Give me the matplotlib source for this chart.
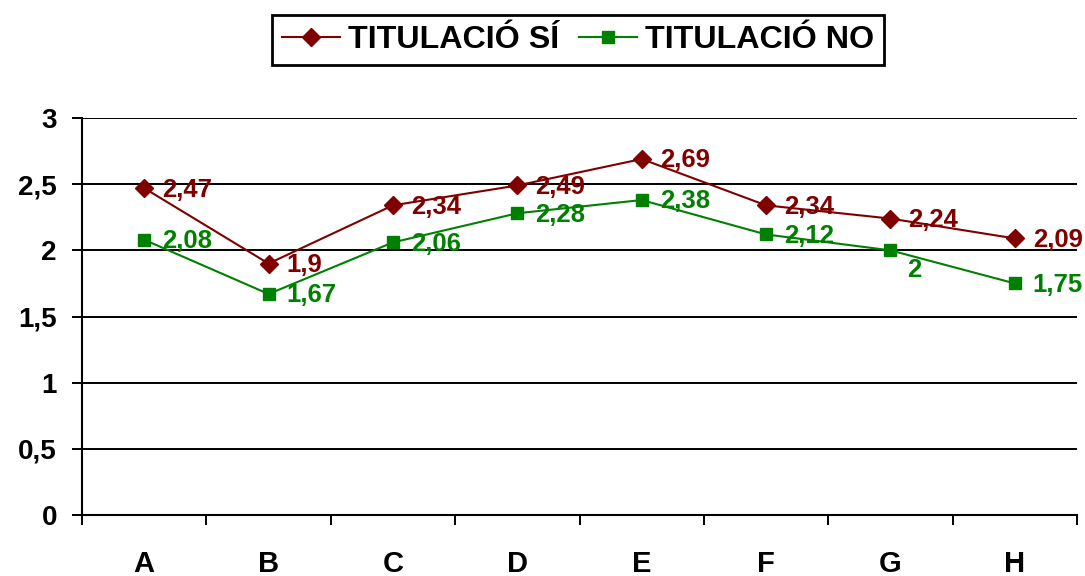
import matplotlib
matplotlib.use("Agg")
import matplotlib.pyplot as plt
from matplotlib.ticker import FixedLocator

categories = ["A", "B", "C", "D", "E", "F", "G", "H"]
si_values = [2.47, 1.9, 2.34, 2.49, 2.69, 2.34, 2.24, 2.09]
no_values = [2.08, 1.67, 2.06, 2.28, 2.38, 2.12, 2.0, 1.75]
y_ticks = [0, 0.5, 1, 1.5, 2, 2.5, 3]
series_names = ["TITULACIÓ SÍ", "TITULACIÓ NO"]

RED = "#800000"
GREEN = "#008000"

plt.rcParams['font.family'] = ['Liberation Sans', 'DejaVu Sans']

def fmt(v):
    s = f"{v:g}"
    return s.replace(".", ",")

fig = plt.figure(figsize=(10.85, 5.76), dpi=100)
ax = fig.add_axes([82/1085, 1-515/576, (1077-82)/1085, (515-118)/576])

x = list(range(len(categories)))
l1, = ax.plot(x, si_values, color=RED, lw=1.5, marker="D", ms=9.5,
              markeredgecolor=RED, markerfacecolor=RED, label=series_names[0], zorder=4)
l2, = ax.plot(x, no_values, color=GREEN, lw=1.5, marker="s", ms=8.3,
              markeredgecolor=GREEN, markerfacecolor=GREEN, label=series_names[1], zorder=4)

for xi, v in zip(x, si_values):
    ax.annotate(fmt(v), (xi, v), xytext=(13, -1), textcoords="offset points",
                ha="left", va="center", color=RED, fontsize=18.5, fontweight="bold", zorder=5)
for xi, v in zip(x, no_values):
    off = (12, -14) if categories[xi] == "G" else (13, -1)
    ax.annotate(fmt(v), (xi, v), xytext=off, textcoords="offset points",
                ha="left", va="center", color=GREEN, fontsize=18.5, fontweight="bold", zorder=5)

ax.set_xlim(-0.5, len(categories) - 0.5)
ax.set_ylim(0, 3)
ax.set_yticks(y_ticks)
ax.set_yticklabels([fmt(t) for t in y_ticks], fontsize=20, fontweight="bold")
ax.set_xticks(x)
ax.set_xticklabels(categories, fontsize=21, fontweight="bold")
ax.xaxis.set_minor_locator(FixedLocator([i - 0.5 for i in range(len(categories) + 1)]))
ax.tick_params(axis="x", which="major", length=0, pad=25)
ax.tick_params(axis="x", which="minor", length=7, width=1.4, direction="out", color="black")
ax.tick_params(axis="y", which="major", length=7, width=1.4, direction="out", pad=11)

ax.grid(axis="y", color="black", lw=1.4)
ax.set_axisbelow(True)
for s in ["top", "right"]:
    ax.spines[s].set_visible(False)
for s in ["left", "bottom"]:
    ax.spines[s].set_linewidth(1.5)
    ax.spines[s].set_color("black")

leg = fig.legend(handles=[l1, l2], loc="center", bbox_to_anchor=(578/1085, 1-40/576),
                 ncol=2, frameon=True, fancybox=False, edgecolor="black", framealpha=1,
                 prop={"size": 23.2, "weight": "bold"}, handlelength=1.8,
                 handletextpad=0.25, columnspacing=0.6, borderpad=0.3)
leg.get_frame().set_linewidth(2)

fig.savefig("out.png", dpi=100)
